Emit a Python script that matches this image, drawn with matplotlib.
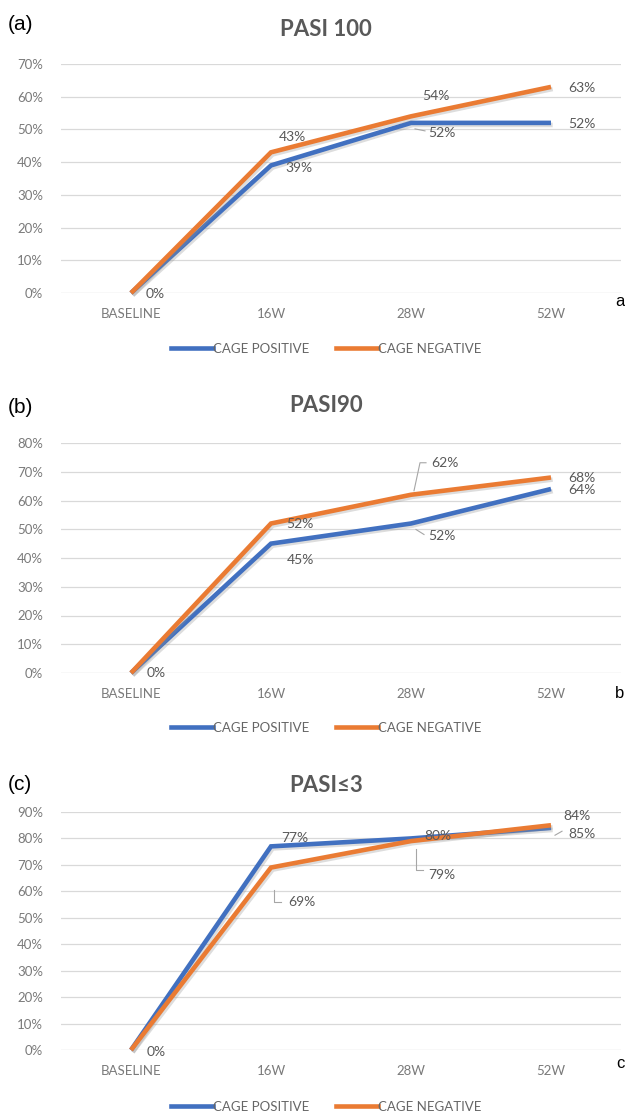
import matplotlib
matplotlib.use("Agg")
import matplotlib.pyplot as plt
import matplotlib.patheffects as pe
from matplotlib.lines import Line2D
import numpy as np

# ---------------- data ----------------
categories = ["BASELINE", "16W", "28W", "52W"]

titles = ["PASI 100", "PASI90", "PASI\u22643"]
panel_tags = ["(a)", "(b)", "(c)"]
corner_letters = ["a", "b", "c"]
series_names = ["CAGE POSITIVE", "CAGE NEGATIVE"]

pasi100_positive = [0, 39, 52, 52]
pasi100_negative = [0, 43, 54, 63]

pasi90_positive = [0, 45, 52, 64]
pasi90_negative = [0, 52, 62, 68]

pasi3_positive = [0, 77, 80, 84]
pasi3_negative = [0, 69, 79, 85]

y_max = [70, 80, 90]

# ---------------- style ----------------
BLUE = "#4170C0"
ORANGE = "#EA7B33"
GRID = "#d9d9d9"
TICK_C = "#7a7a7a"
LABEL_C = "#595959"
FONT = ["Lato", "DejaVu Sans"]

W, H = 625, 1114
fig = plt.figure(figsize=(W / 100, H / 100), dpi=100)
fig.patch.set_facecolor("white")

# axes geometry in pixels (top of y-range, zero line)
ax_px = [(64, 293), (443, 673), (812, 1050)]
left_px, right_px = 61, 621
title_y = [29, 405, 785]
tag_y = [24, 407, 785]
letter_y = [302, 693, 1063]
legend_y = [349, 728, 1107]

# label offsets (pixels, dx right, dy down) per panel per series per point
lab_pos = [
    # panel a
    [[(24, 1), (28, 3), (31, 10), (31, 1)],
     [None, (21, -15), (25, -20), (31, 1)]],
    # panel b
    [[(25, 0), (29, 16), (31, 12), (31, 1)],
     [None, (29, 0), (34, -32), (31, 0)]],
    # panel c
    [[(25, 2), (24, -8), (27, -2), (26, -12)],
     [None, (31, 34), (31, 34), (31, 9)]],
]
# leader lines: (panel, series, point) -> list of pixel offsets
leaders = {
    (0, 0, 2): [(4, 6), (14, 8)],
    (1, 1, 2): [(3, -4), (9, -32), (15, -32)],
    (1, 0, 2): [(5, 6), (13, 11)],
    (2, 1, 1): [(3, 22), (3, 34), (10, 34)],
    (2, 0, 2): [(5, 11), (5, 32), (12, 32)],
    (2, 1, 3): [(4, 10), (11, 6)],
}

data = [
    (pasi100_positive, pasi100_negative),
    (pasi90_positive, pasi90_negative),
    (pasi3_positive, pasi3_negative),
]

x = np.arange(len(categories))
shadow = [pe.SimpleLineShadow(offset=(1.2, -1.5), shadow_color="#8f8f8f", alpha=0.3),
          pe.Normal()]

for p in range(3):
    top, zero = ax_px[p]
    ax = fig.add_axes([left_px / W, 1 - zero / H,
                       (right_px - left_px) / W, (zero - top) / H])
    ax.set_xlim(-0.5, len(categories) - 0.5)
    ax.set_ylim(0, y_max[p])
    for s in ax.spines.values():
        s.set_visible(False)
    yt = np.arange(0, y_max[p] + 1, 10)
    ax.set_yticks(yt)
    ax.set_yticklabels([f"{v}%" for v in yt], fontfamily=FONT, fontsize=9.5, color=TICK_C)
    ax.set_xticks(x)
    ax.set_xticklabels(categories, fontfamily=FONT, fontsize=9.5, color=TICK_C)
    ax.tick_params(axis="both", length=0)
    ax.tick_params(axis="y", pad=13)
    ax.tick_params(axis="x", pad=11)
    for v in yt:
        ax.axhline(v, color="#c9c9c9" if v == 0 else GRID, lw=0.9, zorder=0)

    pos, neg = data[p]
    for si, (vals, col) in enumerate([(pos, BLUE), (neg, ORANGE)]):
        ax.plot(x, vals, color=col, lw=3.3, solid_capstyle="butt",
                solid_joinstyle="miter", path_effects=shadow, zorder=3 + si,
                clip_on=False, label=series_names[si])

    fig.canvas.draw()
    for si, vals in enumerate([pos, neg]):
        for i, v in enumerate(vals):
            off = lab_pos[p][si][i]
            if off is None:
                continue
            ax.annotate(f"{v}%", xy=(x[i], v), xytext=(off[0], -off[1]),
                        textcoords="offset pixels", ha="center", va="center",
                        fontfamily=FONT, fontsize=10, color=LABEL_C, zorder=6,
                        annotation_clip=False)
            key = (p, si, i)
            if key in leaders:
                X, Y = ax.transData.transform((x[i], v))
                disp = np.array([(X + dx, Y - dy) for dx, dy in leaders[key]])
                fp = fig.transFigure.inverted().transform(disp)
                fig.add_artist(Line2D(fp[:, 0], fp[:, 1], transform=fig.transFigure,
                                      color="#a6a6a6", lw=0.8, zorder=7))

    # title, panel tag, corner letter
    fig.text(326 / W, 1 - title_y[p] / H, titles[p], ha="center", va="center",
             fontfamily=FONT, fontsize=16, fontweight="bold", color=LABEL_C)
    fig.text(8 / W, 1 - tag_y[p] / H, panel_tags[p], ha="left", va="center",
             fontfamily=["Liberation Sans", "DejaVu Sans"], fontsize=15, color="black")
    fig.text(620 / W, 1 - letter_y[p] / H, corner_letters[p], ha="center", va="center",
             fontfamily=["Liberation Sans", "DejaVu Sans"], fontsize=12, color="black")

    handles = [Line2D([], [], color=BLUE, lw=3.3), Line2D([], [], color=ORANGE, lw=3.3)]
    leg = fig.legend(handles, series_names, loc="center",
                     bbox_to_anchor=(326 / W, 1 - legend_y[p] / H),
                     ncol=2, frameon=False, handlelength=3.2, handletextpad=0.0,
                     columnspacing=2.0, prop={"family": FONT, "size": 9.5})
    for t in leg.get_texts():
        t.set_color("#666666")

fig.savefig("out.png", dpi=100, facecolor="white")
